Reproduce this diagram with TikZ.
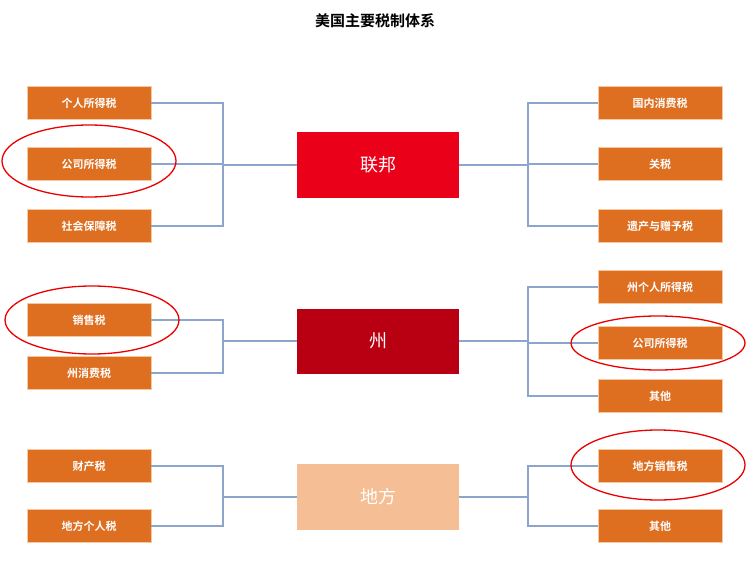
\documentclass[tikz,border=0pt]{standalone}
\usepackage{fontspec}
\newfontfamily\cjk{Noto Sans CJK SC}
\newfontfamily\cjkb{Noto Sans CJK SC Bold}
\begin{document}
\begin{tikzpicture}[x=1pt,y=-1pt,
  leaf/.style={rectangle,fill={rgb,255:red,222;green,110;blue,32},draw={rgb,255:red,245;green,200;blue,160},line width=0.8pt,minimum width=124pt,minimum height=33pt,inner sep=0pt,text=white,font=\cjkb\fontsize{11}{13}\selectfont},
  hub/.style={rectangle,minimum width=162pt,minimum height=65pt,inner sep=0pt,text=white,font=\cjk\fontsize{18}{20}\selectfont},
  conn/.style={draw={rgb,255:red,140;green,165;blue,205},line width=1.3pt},
  ring/.style={draw={rgb,255:red,235;green,0;blue,0},line width=1.3pt}]
\useasboundingbox (0,0) rectangle (750,567);
\node[font=\cjkb\fontsize{15}{18}\selectfont] (title) at (375,21) {美国主要税制体系};
% hubs
\node[hub,fill={rgb,255:red,235;green,0;blue,25}] (fed) at (378,165) {联邦};
\node[hub,fill={rgb,255:red,185;green,0;blue,18}] (st) at (378,341) {州};
\node[hub,fill={rgb,255:red,245;green,190;blue,148},minimum height=66pt] (loc) at (378,497) {地方};
% left leaves
\node[leaf] (l1) at (89,103) {个人所得税};
\node[leaf] (l2) at (89,164) {公司所得税};
\node[leaf] (l3) at (89,226) {社会保障税};
\node[leaf] (l4) at (89,320) {销售税};
\node[leaf] (l5) at (89,373) {州消费税};
\node[leaf] (l6) at (89,466) {财产税};
\node[leaf] (l7) at (89,526) {地方个人税};
% right leaves
\node[leaf] (r1) at (660,103) {国内消费税};
\node[leaf] (r2) at (660,164) {关税};
\node[leaf] (r3) at (660,226) {遗产与赠予税};
\node[leaf] (r4) at (660,287) {州个人所得税};
\node[leaf] (r5) at (660,343) {公司所得税};
\node[leaf] (r6) at (660,396) {其他};
\node[leaf] (r7) at (660,466) {地方销售税};
\node[leaf] (r8) at (660,526) {其他};
% bus points
\coordinate (bl1) at (223,165);
\coordinate (bl2) at (223,341);
\coordinate (bl3) at (223,497);
\coordinate (br1) at (528,165);
\coordinate (br2) at (528,341);
\coordinate (br3) at (528,497);
\begin{scope}[on background layer/.try]
\draw[conn] (l1.east) -| (bl1) -- (fed.west);
\draw[conn] (l2.east) -- (l2.east -| bl1);
\draw[conn] (l3.east) -| (bl1);
\draw[conn] (l4.east) -| (bl2) -- (st.west);
\draw[conn] (l5.east) -| (bl2);
\draw[conn] (l6.east) -| (bl3) -- (loc.west);
\draw[conn] (l7.east) -| (bl3);
\draw[conn] (r1.west) -| (br1) -- (fed.east);
\draw[conn] (r2.west) -- (r2.west -| br1);
\draw[conn] (r3.west) -| (br1);
\draw[conn] (r4.west) -| (br2) -- (st.east);
\draw[conn] (r5.west) -- (r5.west -| br2);
\draw[conn] (r6.west) -| (br2);
\draw[conn] (r7.west) -| (br3) -- (loc.east);
\draw[conn] (r8.west) -| (br3);
\end{scope}
% rings
\draw[ring] (89,161) ellipse (87pt and 36pt);
\draw[ring] (92,320) ellipse (87pt and 34pt);
\draw[ring] (658,343) ellipse (87pt and 27pt);
\draw[ring] (658,465) ellipse (87pt and 35pt);
\end{tikzpicture}
\end{document}
